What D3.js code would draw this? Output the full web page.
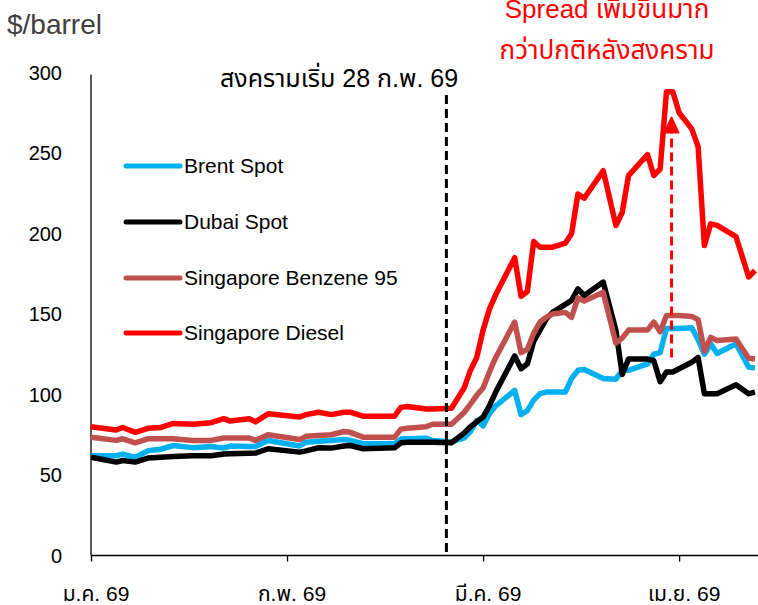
<!DOCTYPE html>
<html>
<head>
<meta charset="utf-8">
<script src="https://cdn.jsdelivr.net/npm/d3@7"></script>
<style>
  body { margin: 0; background: #fff; }
  svg { display: block; font-family: "Liberation Sans", Arial, "Noto Sans Thai", sans-serif; }
</style>
</head>
<body>
<div id="chart"></div>
<script>
// day index along the x axis (ticks every 31 days)
var days = [0,4,5,7,9,11,13,16,19,21,22,25,26,28,33,34,36,38,40,41,43,48,49,50,53,54,57,59,60,61,62,63,64,67,68,69,70,71,72,73,75,76,77,78,81,83,84,85,88,89,90,91,92,93,95,96,97,98,99,102,104,105];

var brent = [62,62,63,61,65,66,68.3,67,67.7,66.7,68,67.7,67.7,71.4,68,70.4,71,71.5,72,71.5,69.4,69.4,72.3,72.5,72.9,71.4,70.5,73,77,84,80.5,88,93,102.5,87.5,90,96.5,100.5,101.5,101.5,101.5,110,115,115.5,110,109.5,115,115,119,125,126,141,141,141,141.5,134,125,131.5,125.5,131.5,117,116.5];
var dubai = [61,58,59,58,60.5,61,61.5,62,62,63,63.2,63.5,63.6,66.3,64.2,65,66.9,66.7,68,68.3,66.3,66.9,70,70.4,70.4,70.4,70,76,80,83,86,93,101.5,124,116,119,133,140,147,151,156,158.5,165.6,161.5,169.8,140,112.5,122,122,121,108,114,114,116,120,123,100.5,100.5,100.5,106,100.5,101.5];
var benzene = [73.5,71.5,72.5,70,72.5,72.5,72.5,71.5,71.5,73,73,73,71.5,75,72,74,74.5,75,77,76.5,73.5,73.5,78.5,79,80,81.5,81.5,88.8,94,99.5,104,114,123,145,126,128,138,145,148,150,151,148,160,158,163.5,132,135,140,140,145,139,149,149,149,148.5,146.5,127,135.5,133.5,134.5,122.5,122];
var diesel = [80,78,79.5,76.5,79,79.5,82,81.5,82.5,85,83.5,85,83,88,86,87.5,89,87.5,89,89,86.5,86.5,92,92.5,91,91,91.5,104,115,123,140,153,162,185,161,164,195,191.5,191.5,191.5,194,200,224.5,222,239,205,213,236,249,236,240,288,288,275,265,254,192.5,206,205,198,173,177];

var seriesNames = ["Brent Spot", "Dubai Spot", "Singapore Benzene 95", "Singapore Diesel"];
var seriesColors = ["#00B0F0", "#000000", "#C0504D", "#FF0000"];

var tickDays = [0, 31, 62, 93];
var tickLabels = ["ม.ค. 69", "ก.พ. 69", "มี.ค. 69", "เม.ย. 69"];
var yTicks = [0, 50, 100, 150, 200, 250, 300];

var warDay = 56.2;
var arrowDay = 91.8, arrowFrom = 123, arrowTo = 272;

var width = 758, height = 605;

var svg = d3.select("#chart").append("svg")
  .attr("width", width)
  .attr("height", height);

var x = d3.scaleLinear().domain([0, 105]).range([91, 755]);
var y = d3.scaleLinear().domain([0, 300]).range([555.5, 72.5]);

// axes
var xAxis = svg.append("g")
  .attr("transform", "translate(0," + y(0) + ")")
  .call(d3.axisBottom(x).tickValues(tickDays).tickSize(6).tickFormat(""));
xAxis.select(".domain").attr("d", "M" + x(0) + ",0H" + (width));
xAxis.selectAll("line, path").attr("stroke", "#000").attr("stroke-width", 1.3);

svg.selectAll(".xlab")
  .data(tickDays)
  .enter().append("text")
  .attr("x", function(d){ return x(d) + 5; })
  .attr("y", 601)
  .attr("text-anchor", "middle")
  .style("font-size", "21px")
  .text(function(d, i){ return tickLabels[i]; });

svg.append("line")
  .attr("x1", x(0)).attr("x2", x(0))
  .attr("y1", y(300) + 2).attr("y2", y(0))
  .attr("stroke", "#000").attr("stroke-width", 1.3);

svg.selectAll(".ylab")
  .data(yTicks)
  .enter().append("text")
  .attr("x", 62)
  .attr("y", function(d){ return y(d) + 7; })
  .attr("text-anchor", "end")
  .style("font-size", "20px")
  .text(function(d){ return d; });

svg.append("text")
  .attr("x", 7).attr("y", 34)
  .style("font-size", "28px")
  .attr("fill", "#404040")
  .text("$/barrel");

// lines
var allSeries = [brent, dubai, benzene, diesel];
var line = d3.line()
  .x(function(d, i){ return x(days[i]); })
  .y(function(d){ return y(d); });

allSeries.forEach(function(s, k){
  svg.append("path")
    .datum(s)
    .attr("d", line)
    .attr("fill", "none")
    .attr("stroke", seriesColors[k])
    .attr("stroke-width", 5.5)
    .attr("stroke-linejoin", "round");
});

// war start marker
svg.append("line")
  .attr("x1", x(warDay)).attr("x2", x(warDay))
  .attr("y1", 95).attr("y2", y(0))
  .attr("stroke", "#000").attr("stroke-width", 3)
  .attr("stroke-dasharray", "9,5");

svg.append("text")
  .attr("x", 339).attr("y", 87)
  .attr("text-anchor", "middle")
  .style("font-size", "25px")
  .text("สงครามเริ่ม 28 ก.พ. 69");

// spread arrow
svg.append("line")
  .attr("x1", x(arrowDay)).attr("x2", x(arrowDay))
  .attr("y1", y(arrowFrom)).attr("y2", y(arrowTo) + 12)
  .attr("stroke", "#FF0000").attr("stroke-width", 3)
  .attr("stroke-dasharray", "9,5");
svg.append("path")
  .attr("d", "M" + (x(arrowDay) - 7) + "," + (y(arrowTo) + 15) +
             "L" + x(arrowDay) + "," + y(arrowTo) +
             "L" + (x(arrowDay) + 7) + "," + (y(arrowTo) + 15) + "Z")
  .attr("fill", "#FF0000")
  .attr("stroke", "#FF0000").attr("stroke-width", 2).attr("stroke-linejoin", "round");

svg.append("text")
  .attr("x", 607).attr("y", 18)
  .attr("text-anchor", "middle")
  .attr("fill", "#FF0000")
  .style("font-size", "26px")
  .text("Spread เพิ่มขึ้นมาก");
svg.append("text")
  .attr("x", 607).attr("y", 59)
  .attr("text-anchor", "middle")
  .attr("fill", "#FF0000")
  .style("font-size", "26px")
  .text("กว่าปกติหลังสงคราม");

// legend
var legendY = [166, 222, 278, 333];
var legend = svg.selectAll(".leg")
  .data(seriesNames)
  .enter().append("g");
legend.append("line")
  .attr("x1", 126).attr("x2", 180)
  .attr("y1", function(d, i){ return legendY[i]; })
  .attr("y2", function(d, i){ return legendY[i]; })
  .attr("stroke", function(d, i){ return seriesColors[i]; })
  .attr("stroke-width", 5)
  .attr("stroke-linecap", "round");
legend.append("text")
  .attr("x", 184)
  .attr("y", function(d, i){ return legendY[i] + 7; })
  .style("font-size", "21px")
  .text(function(d){ return d; });
</script>
</body>
</html>
